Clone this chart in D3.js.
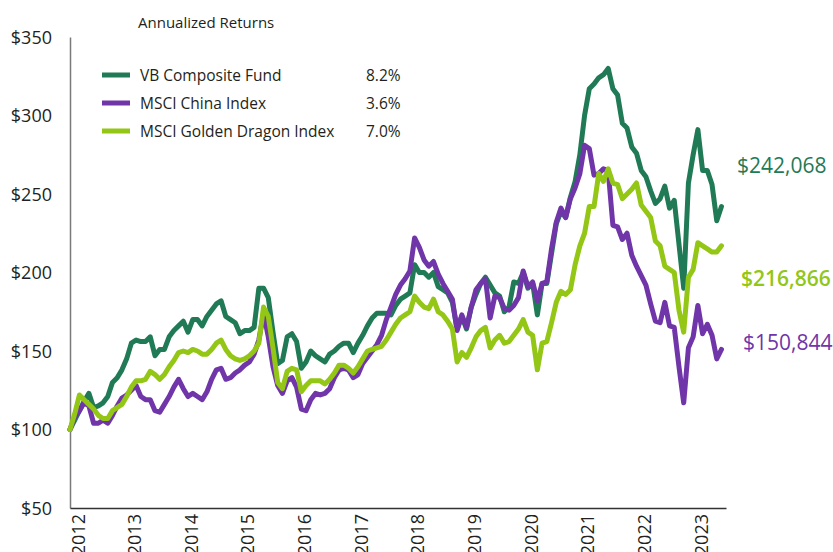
<!DOCTYPE html>
<html lang="en">
<head>
<meta charset="UTF-8">
<title>Growth of $100</title>
<script src="https://cdn.jsdelivr.net/npm/d3@7"></script>
<style>
	body { margin: 0; background: #fff; }
	svg text { font-family: "Open Sans", "Noto Sans", sans-serif; fill: #231f20; }
</style>
</head>
<body>
<div id="viz"></div>
<script>
// monthly values, Jan 2012 .. Jul 2023 (growth of $100)
const vbFund = [
	100,106,112,118,123,114,115,117,121,130,133,138,
	145,155,157,156,156,159,147,151,151,159,163,166,
	169,162,170,170,166,172,176,180,182,172,170,168,
	161,163,163,165,190,190,184,162,142,144,159,161,
	156,139,143,150,147,145,143,148,150,153,155,155,
	149,155,160,166,171,174,174,174,173,179,183,185,
	187,205,200,200,197,200,191,189,187,181,164,172,
	164,178,186,193,197,192,187,185,175,178,194,193,
	200,190,193,173,193,193,212,231,239,235,248,258,
	275,300,317,320,324,326,330,317,313,295,292,280,
	276,265,261,252,244,247,255,241,246,218,190,257,
	275,291,265,265,256,233,242
];
const msciChina = [
	100,108,112,117,115,104,104,106,104,109,115,120,
	122,125,128,121,119,119,112,111,116,121,127,132,
	126,121,123,121,119,124,132,138,139,132,133,136,
	138,141,143,148,157,174,159,140,128,123,131,133,
	127,113,112,119,123,122,123,126,133,138,139,138,
	133,135,142,146,150,154,160,170,178,186,192,196,
	201,222,216,208,204,207,199,193,188,183,163,173,
	165,178,189,193,196,171,185,184,177,176,179,184,
	201,191,194,182,193,194,215,232,241,235,247,254,
	263,281,279,262,263,266,265,230,229,221,225,211,
	204,198,192,180,169,168,181,166,165,140,117,152,
	159,179,161,167,160,145,151
];
const goldenDragon = [
	100,110,122,119,116,113,109,107,107,112,114,116,
	121,127,131,131,132,137,135,132,135,140,144,149,
	150,149,151,150,148,148,151,155,157,151,147,145,
	144,145,147,150,155,178,172,152,130,126,137,139,
	138,124,128,131,131,131,129,132,136,141,141,139,
	136,140,145,150,151,152,153,157,162,167,171,173,
	175,185,181,178,177,183,175,173,169,164,143,149,
	146,152,159,163,165,152,157,160,155,156,160,164,
	170,162,160,138,155,156,168,181,188,186,189,205,
	217,225,242,242,263,258,266,257,256,247,250,253,
	257,243,239,235,220,217,204,202,200,176,162,197,
	202,219,217,215,213,213,217
];

const startYear = 2012;
const yearTicks = [2012,2013,2014,2015,2016,2017,2018,2019,2020,2021,2022,2023];
const yTicks = [50,100,150,200,250,300,350];

const seriesNames = ['VB Composite Fund', 'MSCI China Index', 'MSCI Golden Dragon Index'];
const annualized = ['8.2%', '3.6%', '7.0%'];
const endLabels = ['$242,068', '$150,844', '$216,866'];
const colors = ['#1f7a55', '#7035a8', '#93c615'];

const W = 833, H = 552;

let svg = d3.select('#viz').append('svg')
	.attr('width', W)
	.attr('height', H);

let x = d3.scaleLinear()
	.domain([2012, 2023.58])
	.range([70, 726]);

let y = d3.scaleLinear()
	.domain([50, 350])
	.range([508, 37]);

// axes
let yAxis = d3.axisLeft(y).tickValues(yTicks).tickSize(0).tickPadding(18)
	.tickFormat(d => '$' + d);
let gy = svg.append('g')
	.attr('transform', 'translate(' + x(2012) + ',0)')
	.call(yAxis);
gy.select('.domain').attr('stroke', '#7a7a7a').attr('stroke-width', 1.5);
gy.selectAll('text')
	.style('font-size', '18px')
	.attr('dy', '0.34em');

let xAxis = d3.axisBottom(x).tickValues(yearTicks).tickSize(0).tickFormat(d => d);
let gx = svg.append('g')
	.attr('transform', 'translate(0,' + y(50) + ')')
	.call(xAxis);
gx.select('.domain').attr('stroke', '#333').attr('stroke-width', 1.5);
// year labels run off the bottom edge, as in the original
gx.selectAll('text')
	.style('font-size', '18px')
	.attr('text-anchor', 'end')
	.attr('dy', null)
	.attr('y', 0)
	.attr('transform', 'translate(7,6) rotate(-90)')
	.attr('dominant-baseline', 'central');

// lines
let line = d3.line()
	.x((d, i) => x(startYear + i / 12))
	.y(d => y(d));

let data = [vbFund, msciChina, goldenDragon];

data.forEach((series, k) => {
	svg.append('path')
		.datum(series)
		.attr('fill', 'none')
		.attr('stroke', colors[k])
		.attr('stroke-width', 5)
		.attr('stroke-linejoin', 'round')
		.attr('stroke-linecap', 'round')
		.attr('d', line);
});

// legend
svg.append('text')
	.attr('x', 138)
	.attr('y', 22)
	.attr('dominant-baseline', 'central')
	.style('font-size', '15px')
	.text('Annualized Returns');

[0, 1, 2].forEach((k) => {
	let ly = 75 + k * 28;
	svg.append('line')
		.attr('x1', 102).attr('x2', 130)
		.attr('y1', ly).attr('y2', ly)
		.attr('stroke', colors[k])
		.attr('stroke-width', 5);
	svg.append('text')
		.attr('x', 140).attr('y', ly)
		.attr('dominant-baseline', 'central')
		.style('font-size', '15.5px')
		.text(seriesNames[k]);
	svg.append('text')
		.attr('x', 366).attr('y', ly)
		.attr('dominant-baseline', 'central')
		.style('font-size', '15.5px')
		.text(annualized[k]);
});

// end-value labels
let endY = [165, 342, 278];
let endX = [737, 743, 741];
[0, 1, 2].forEach((k) => {
	svg.append('text')
		.attr('x', endX[k])
		.attr('y', endY[k])
		.attr('dominant-baseline', 'central')
		.style('font-size', '21px')
		.style('font-weight', k === 2 ? 600 : 400)
		.style('fill', colors[k])
		.text(endLabels[k]);
});
</script>
</body>
</html>
